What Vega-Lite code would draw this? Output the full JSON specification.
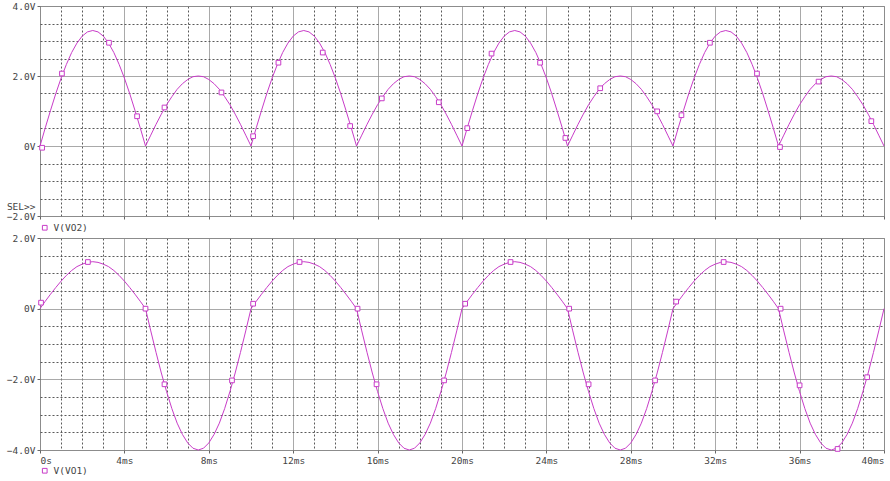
{
  "$schema": "https://vega.github.io/schema/vega-lite/v6.json",
  "background": "white",
  "padding": {"left": 5, "top": 0, "right": 5, "bottom": 0},
  "spacing": -2,
  "config": {
    "view": {"stroke": "#8c8c8c", "strokeWidth": 1},
    "axis": {
      "domain": false,
      "title": null,
      "labelFont": "DejaVu Sans Mono",
      "labelFontSize": 9.5,
      "labelColor": "#444444",
      "labelOverlap": false,
      "tickCount": 500,
      "tickColor": "#666666",
      "tickSize": 3,
      "labelPadding": 2,
      "grid": true,
      "gridWidth": 1
    },
    "legend": {
      "labelFont": "DejaVu Sans Mono",
      "labelFontSize": 9.5,
      "labelColor": "#444444"
    }
  },
  "datasets": {
    "wave": [
      {"t":0,"vo2":0,"vo1":0},{"t":0.25,"vo2":0.52,"vo1":0.21},{"t":0.5,"vo2":1.02,"vo1":0.41},{"t":0.75,"vo2":1.5,"vo1":0.6},{"t":1,"vo2":1.94,"vo1":0.78},{"t":1.25,"vo2":2.33,"vo1":0.94},{"t":1.5,"vo2":2.67,"vo1":1.08},{"t":1.75,"vo2":2.94,"vo1":1.19},{"t":2,"vo2":3.14,"vo1":1.26},{"t":2.25,"vo2":3.26,"vo1":1.31},{"t":2.5,"vo2":3.3,"vo1":1.33},{"t":2.75,"vo2":3.26,"vo1":1.31},{"t":3,"vo2":3.14,"vo1":1.26},{"t":3.25,"vo2":2.94,"vo1":1.19},{"t":3.5,"vo2":2.67,"vo1":1.08},{"t":3.75,"vo2":2.33,"vo1":0.94},{"t":4,"vo2":1.94,"vo1":0.78},{"t":4.25,"vo2":1.5,"vo1":0.6},{"t":4.5,"vo2":1.02,"vo1":0.41},{"t":4.75,"vo2":0.52,"vo1":0.21},
      {"t":5,"vo2":0,"vo1":0},{"t":5.25,"vo2":0.31,"vo1":-0.63},{"t":5.5,"vo2":0.62,"vo1":-1.24},{"t":5.75,"vo2":0.91,"vo1":-1.82},{"t":6,"vo2":1.18,"vo1":-2.35},{"t":6.25,"vo2":1.41,"vo1":-2.83},{"t":6.5,"vo2":1.62,"vo1":-3.24},{"t":6.75,"vo2":1.78,"vo1":-3.56},{"t":7,"vo2":1.9,"vo1":-3.8},{"t":7.25,"vo2":1.98,"vo1":-3.95},{"t":7.5,"vo2":2.0,"vo1":-4.0},{"t":7.75,"vo2":1.98,"vo1":-3.95},{"t":8,"vo2":1.9,"vo1":-3.8},{"t":8.25,"vo2":1.78,"vo1":-3.56},{"t":8.5,"vo2":1.62,"vo1":-3.24},{"t":8.75,"vo2":1.41,"vo1":-2.83},{"t":9,"vo2":1.18,"vo1":-2.35},{"t":9.25,"vo2":0.91,"vo1":-1.82},{"t":9.5,"vo2":0.62,"vo1":-1.24},{"t":9.75,"vo2":0.31,"vo1":-0.63},
      {"t":10,"vo2":0,"vo1":0},{"t":10.25,"vo2":0.52,"vo1":0.21},{"t":10.5,"vo2":1.02,"vo1":0.41},{"t":10.75,"vo2":1.5,"vo1":0.6},{"t":11,"vo2":1.94,"vo1":0.78},{"t":11.25,"vo2":2.33,"vo1":0.94},{"t":11.5,"vo2":2.67,"vo1":1.08},{"t":11.75,"vo2":2.94,"vo1":1.19},{"t":12,"vo2":3.14,"vo1":1.26},{"t":12.25,"vo2":3.26,"vo1":1.31},{"t":12.5,"vo2":3.3,"vo1":1.33},{"t":12.75,"vo2":3.26,"vo1":1.31},{"t":13,"vo2":3.14,"vo1":1.26},{"t":13.25,"vo2":2.94,"vo1":1.19},{"t":13.5,"vo2":2.67,"vo1":1.08},{"t":13.75,"vo2":2.33,"vo1":0.94},{"t":14,"vo2":1.94,"vo1":0.78},{"t":14.25,"vo2":1.5,"vo1":0.6},{"t":14.5,"vo2":1.02,"vo1":0.41},{"t":14.75,"vo2":0.52,"vo1":0.21},
      {"t":15,"vo2":0,"vo1":0},{"t":15.25,"vo2":0.31,"vo1":-0.63},{"t":15.5,"vo2":0.62,"vo1":-1.24},{"t":15.75,"vo2":0.91,"vo1":-1.82},{"t":16,"vo2":1.18,"vo1":-2.35},{"t":16.25,"vo2":1.41,"vo1":-2.83},{"t":16.5,"vo2":1.62,"vo1":-3.24},{"t":16.75,"vo2":1.78,"vo1":-3.56},{"t":17,"vo2":1.9,"vo1":-3.8},{"t":17.25,"vo2":1.98,"vo1":-3.95},{"t":17.5,"vo2":2.0,"vo1":-4.0},{"t":17.75,"vo2":1.98,"vo1":-3.95},{"t":18,"vo2":1.9,"vo1":-3.8},{"t":18.25,"vo2":1.78,"vo1":-3.56},{"t":18.5,"vo2":1.62,"vo1":-3.24},{"t":18.75,"vo2":1.41,"vo1":-2.83},{"t":19,"vo2":1.18,"vo1":-2.35},{"t":19.25,"vo2":0.91,"vo1":-1.82},{"t":19.5,"vo2":0.62,"vo1":-1.24},{"t":19.75,"vo2":0.31,"vo1":-0.63},
      {"t":20,"vo2":0,"vo1":0},{"t":20.25,"vo2":0.52,"vo1":0.21},{"t":20.5,"vo2":1.02,"vo1":0.41},{"t":20.75,"vo2":1.5,"vo1":0.6},{"t":21,"vo2":1.94,"vo1":0.78},{"t":21.25,"vo2":2.33,"vo1":0.94},{"t":21.5,"vo2":2.67,"vo1":1.08},{"t":21.75,"vo2":2.94,"vo1":1.19},{"t":22,"vo2":3.14,"vo1":1.26},{"t":22.25,"vo2":3.26,"vo1":1.31},{"t":22.5,"vo2":3.3,"vo1":1.33},{"t":22.75,"vo2":3.26,"vo1":1.31},{"t":23,"vo2":3.14,"vo1":1.26},{"t":23.25,"vo2":2.94,"vo1":1.19},{"t":23.5,"vo2":2.67,"vo1":1.08},{"t":23.75,"vo2":2.33,"vo1":0.94},{"t":24,"vo2":1.94,"vo1":0.78},{"t":24.25,"vo2":1.5,"vo1":0.6},{"t":24.5,"vo2":1.02,"vo1":0.41},{"t":24.75,"vo2":0.52,"vo1":0.21},
      {"t":25,"vo2":0,"vo1":0},{"t":25.25,"vo2":0.31,"vo1":-0.63},{"t":25.5,"vo2":0.62,"vo1":-1.24},{"t":25.75,"vo2":0.91,"vo1":-1.82},{"t":26,"vo2":1.18,"vo1":-2.35},{"t":26.25,"vo2":1.41,"vo1":-2.83},{"t":26.5,"vo2":1.62,"vo1":-3.24},{"t":26.75,"vo2":1.78,"vo1":-3.56},{"t":27,"vo2":1.9,"vo1":-3.8},{"t":27.25,"vo2":1.98,"vo1":-3.95},{"t":27.5,"vo2":2.0,"vo1":-4.0},{"t":27.75,"vo2":1.98,"vo1":-3.95},{"t":28,"vo2":1.9,"vo1":-3.8},{"t":28.25,"vo2":1.78,"vo1":-3.56},{"t":28.5,"vo2":1.62,"vo1":-3.24},{"t":28.75,"vo2":1.41,"vo1":-2.83},{"t":29,"vo2":1.18,"vo1":-2.35},{"t":29.25,"vo2":0.91,"vo1":-1.82},{"t":29.5,"vo2":0.62,"vo1":-1.24},{"t":29.75,"vo2":0.31,"vo1":-0.63},
      {"t":30,"vo2":0,"vo1":0},{"t":30.25,"vo2":0.52,"vo1":0.21},{"t":30.5,"vo2":1.02,"vo1":0.41},{"t":30.75,"vo2":1.5,"vo1":0.6},{"t":31,"vo2":1.94,"vo1":0.78},{"t":31.25,"vo2":2.33,"vo1":0.94},{"t":31.5,"vo2":2.67,"vo1":1.08},{"t":31.75,"vo2":2.94,"vo1":1.19},{"t":32,"vo2":3.14,"vo1":1.26},{"t":32.25,"vo2":3.26,"vo1":1.31},{"t":32.5,"vo2":3.3,"vo1":1.33},{"t":32.75,"vo2":3.26,"vo1":1.31},{"t":33,"vo2":3.14,"vo1":1.26},{"t":33.25,"vo2":2.94,"vo1":1.19},{"t":33.5,"vo2":2.67,"vo1":1.08},{"t":33.75,"vo2":2.33,"vo1":0.94},{"t":34,"vo2":1.94,"vo1":0.78},{"t":34.25,"vo2":1.5,"vo1":0.6},{"t":34.5,"vo2":1.02,"vo1":0.41},{"t":34.75,"vo2":0.52,"vo1":0.21},
      {"t":35,"vo2":0,"vo1":0},{"t":35.25,"vo2":0.31,"vo1":-0.63},{"t":35.5,"vo2":0.62,"vo1":-1.24},{"t":35.75,"vo2":0.91,"vo1":-1.82},{"t":36,"vo2":1.18,"vo1":-2.35},{"t":36.25,"vo2":1.41,"vo1":-2.83},{"t":36.5,"vo2":1.62,"vo1":-3.24},{"t":36.75,"vo2":1.78,"vo1":-3.56},{"t":37,"vo2":1.9,"vo1":-3.8},{"t":37.25,"vo2":1.98,"vo1":-3.95},{"t":37.5,"vo2":2.0,"vo1":-4.0},{"t":37.75,"vo2":1.98,"vo1":-3.95},{"t":38,"vo2":1.9,"vo1":-3.8},{"t":38.25,"vo2":1.78,"vo1":-3.56},{"t":38.5,"vo2":1.62,"vo1":-3.24},{"t":38.75,"vo2":1.41,"vo1":-2.83},{"t":39,"vo2":1.18,"vo1":-2.35},{"t":39.25,"vo2":0.91,"vo1":-1.82},{"t":39.5,"vo2":0.62,"vo1":-1.24},{"t":39.75,"vo2":0.31,"vo1":-0.63},
      {"t":40,"vo2":0,"vo1":0}
    ],
    "m2": [
      {"t":0.1,"v":-0.05},{"t":1.04,"v":2.07},{"t":3.27,"v":2.95},{"t":4.6,"v":0.85},{"t":5.9,"v":1.1},{"t":8.6,"v":1.53},
      {"t":10.1,"v":0.28},{"t":11.3,"v":2.38},{"t":13.4,"v":2.67},{"t":14.7,"v":0.57},{"t":16.2,"v":1.36},{"t":18.9,"v":1.25},
      {"t":20.25,"v":0.51},{"t":21.4,"v":2.64},{"t":23.7,"v":2.38},{"t":24.9,"v":0.23},{"t":26.55,"v":1.65},{"t":29.25,"v":0.99},
      {"t":30.4,"v":0.88},{"t":31.75,"v":2.95},{"t":33.98,"v":2.07},{"t":35.07,"v":-0.03},{"t":36.9,"v":1.84},{"t":39.4,"v":0.71}
    ],
    "m1": [
      {"t":0.05,"v":0.17},{"t":2.27,"v":1.32},{"t":5.0,"v":0},{"t":5.9,"v":-2.14},{"t":9.1,"v":-2.03},
      {"t":10.1,"v":0.14},{"t":12.3,"v":1.32},{"t":15.05,"v":0},{"t":15.95,"v":-2.14},{"t":19.15,"v":-2.03},
      {"t":20.15,"v":0.14},{"t":22.3,"v":1.32},{"t":25.08,"v":0},{"t":26.0,"v":-2.14},{"t":29.15,"v":-2.03},
      {"t":30.15,"v":0.2},{"t":32.4,"v":1.32},{"t":35.1,"v":0},{"t":36.0,"v":-2.17},{"t":37.8,"v":-3.97},{"t":39.2,"v":-1.94}
    ]
  },
  "resolve": {"scale": {"color": "independent"}, "legend": {"color": "independent"}},
  "vconcat": [
    {
      "width": 844,
      "height": 210,
      "layer": [
        {
          "data": {"name": "wave"},
          "mark": {"type": "line", "color": "#c83cc8", "strokeWidth": 1},
          "encoding": {
            "x": {"field": "t", "type": "quantitative", "scale": {"domain": [0, 40], "nice": false, "zero": false},
              "axis": {"values": [0,1,2,3,4,5,6,7,8,9,10,11,12,13,14,15,16,17,18,19,20,21,22,23,24,25,26,27,28,29,30,31,32,33,34,35,36,37,38,39,40],
                "tickCount": 500,
                "labels": false,
                "tickOpacity": {"condition": {"test": "datum.value % 4 === 0", "value": 1}, "value": 0},
                "gridDash": {"condition": {"test": "datum.value % 4 === 0", "value": [1, 0]}, "value": [2, 2]},
                "gridColor": {"condition": {"test": "datum.value % 4 === 0", "value": "#8c8c8c"}, "value": "#5a5a5a"}}},
            "y": {"field": "vo2", "type": "quantitative", "scale": {"domain": [-2, 4], "nice": false, "zero": false},
              "axis": {"values": [-2,-1.72,-1.5,-1,-0.5,0,0.5,1,1.5,2,2.5,3,3.5,4],
                "tickCount": 500,
                "labelExpr": "datum.value === -1.72 ? 'SEL>>' : (datum.value % 2 === 0 ? (datum.value === 0 ? '0V' : format(datum.value, '.1f') + 'V') : '')",
                "tickOpacity": {"condition": {"test": "datum.value % 2 === 0", "value": 1}, "value": 0},
                "gridOpacity": {"condition": {"test": "datum.value === -1.72", "value": 0}, "value": 1},
                "gridDash": {"condition": {"test": "datum.value % 2 === 0", "value": [1, 0]}, "value": [2, 2]},
                "gridColor": {"condition": {"test": "datum.value % 2 === 0", "value": "#8c8c8c"}, "value": "#5a5a5a"}}}
          }
        },
        {
          "data": {"name": "m2"},
          "mark": {"type": "point", "shape": "square", "filled": false, "fill": "white", "fillOpacity": 1, "size": 22, "strokeWidth": 1, "opacity": 1},
          "encoding": {
            "x": {"field": "t", "type": "quantitative"},
            "y": {"field": "v", "type": "quantitative"},
            "color": {"datum": "V(VO2)", "type": "nominal", "scale": {"range": ["#c83cc8"]},
              "legend": {"title": null, "orient": "bottom", "offset": 3, "symbolType": "square", "symbolSize": 22, "symbolStrokeWidth": 1, "symbolFillColor": "white", "labelOffset": 4, "padding": 0}}
          }
        }
      ]
    },
    {
      "width": 844,
      "height": 212,
      "layer": [
        {
          "data": {"name": "wave"},
          "mark": {"type": "line", "color": "#c83cc8", "strokeWidth": 1},
          "encoding": {
            "x": {"field": "t", "type": "quantitative", "scale": {"domain": [0, 40], "nice": false, "zero": false},
              "axis": {"values": [0,1,2,3,4,5,6,7,8,9,10,11,12,13,14,15,16,17,18,19,20,21,22,23,24,25,26,27,28,29,30,31,32,33,34,35,36,37,38,39,40],
                "tickCount": 500,
                "labelExpr": "datum.value % 4 === 0 ? (datum.value === 0 ? '0s' : datum.value + 'ms') : ''",
                "labelPadding": 2,
                "tickOpacity": {"condition": {"test": "datum.value % 4 === 0", "value": 1}, "value": 0},
                "gridDash": {"condition": {"test": "datum.value % 4 === 0", "value": [1, 0]}, "value": [2, 2]},
                "gridColor": {"condition": {"test": "datum.value % 4 === 0", "value": "#8c8c8c"}, "value": "#5a5a5a"}}},
            "y": {"field": "vo1", "type": "quantitative", "scale": {"domain": [-4, 2], "nice": false, "zero": false},
              "axis": {"values": [-4,-3.5,-3,-2.5,-2,-1.5,-1,-0.5,0,0.5,1,1.5,2],
                "tickCount": 500,
                "labelExpr": "datum.value % 2 === 0 ? (datum.value === 0 ? '0V' : format(datum.value, '.1f') + 'V') : ''",
                "tickOpacity": {"condition": {"test": "datum.value % 2 === 0", "value": 1}, "value": 0},
                "gridDash": {"condition": {"test": "datum.value % 2 === 0", "value": [1, 0]}, "value": [2, 2]},
                "gridColor": {"condition": {"test": "datum.value % 2 === 0", "value": "#8c8c8c"}, "value": "#5a5a5a"}}}
          }
        },
        {
          "data": {"name": "m1"},
          "mark": {"type": "point", "shape": "square", "filled": false, "fill": "white", "fillOpacity": 1, "size": 22, "strokeWidth": 1, "opacity": 1},
          "encoding": {
            "x": {"field": "t", "type": "quantitative"},
            "y": {"field": "v", "type": "quantitative"},
            "color": {"datum": "V(VO1)", "type": "nominal", "scale": {"range": ["#c83cc8"]},
              "legend": {"title": null, "orient": "bottom", "offset": 1, "symbolType": "square", "symbolSize": 22, "symbolStrokeWidth": 1, "symbolFillColor": "white", "labelOffset": 4, "padding": 0}}
          }
        }
      ]
    }
  ]
}
